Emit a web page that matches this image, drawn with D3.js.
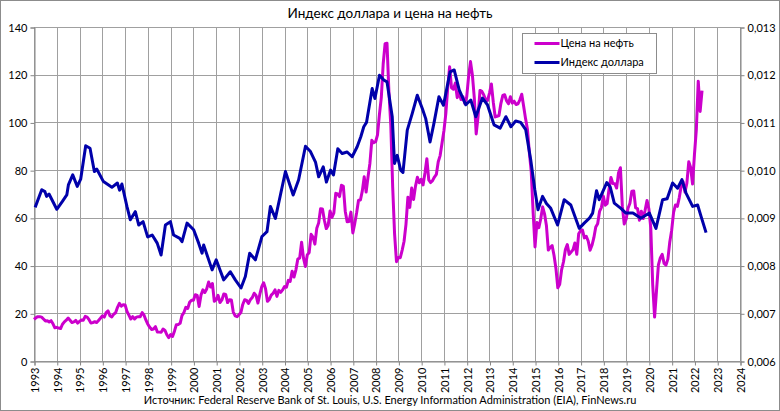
<!DOCTYPE html>
<html>
<head>
<meta charset="utf-8">
<script src="https://cdn.jsdelivr.net/npm/d3@7"></script>
<style>
  body { margin: 0; background: #fff; }
  svg { display: block; font-family: Lato, "Open Sans", sans-serif; }
</style>
</head>
<body>
<div class="chart"></div>
<script>
// Brent, $/bbl, monthly from Jan 1993
var oilStart = 1993;
var oilPrices = [
  17.4, 18.1, 18.6, 18.6, 18.4, 17.6, 16.8, 16.9, 16.4, 16.9, 15.6, 13.9,
  14.1, 13.8, 13.6, 15.4, 16.4, 17.1, 18.0, 17.1, 16.1, 16.4, 17.0, 15.9,
  16.6, 17.2, 17.1, 18.7, 18.4, 17.3, 15.9, 16.1, 16.5, 16.1, 17.0, 17.9,
  18.9, 18.4, 20.3, 21.0, 19.0, 18.5, 19.6, 20.2, 22.5, 24.2, 23.0, 23.6,
  23.5, 20.8, 19.2, 17.6, 18.6, 17.6, 18.4, 18.6, 18.6, 20.3, 19.2, 17.1,
  15.4, 14.1, 13.2, 13.4, 14.4, 12.2, 12.1, 12.0, 13.4, 12.8, 11.0, 9.8,
  11.1, 10.3, 12.5, 15.2, 15.3, 15.8, 19.1, 20.3, 22.5, 22.0, 24.6, 25.5,
  25.5, 27.8, 27.5, 22.8, 27.7, 29.8, 28.7, 30.2, 33.1, 31.0, 32.5, 25.0,
  25.6, 27.5, 24.5, 25.6, 28.1, 27.9, 24.5, 25.7, 25.6, 20.5, 18.9, 18.6,
  19.4, 20.3, 23.7, 25.7, 25.4, 24.1, 25.7, 26.6, 28.4, 27.5, 24.3, 28.0,
  31.2, 32.8, 30.3, 25.0, 25.8, 27.6, 28.4, 29.8, 27.1, 29.6, 28.8, 29.8,
  31.2, 30.9, 33.8, 33.4, 37.6, 35.2, 38.2, 42.7, 43.2, 49.8, 43.1, 39.6,
  44.5, 45.5, 53.1, 51.9, 49.0, 55.6, 57.9, 63.8, 63.7, 59.0, 55.5, 56.8,
  62.9, 60.2, 62.1, 70.3, 70.0, 68.9, 73.7, 73.2, 62.8, 58.4, 58.5, 62.4,
  53.7, 57.6, 62.1, 67.4, 67.5, 71.3, 77.2, 70.8, 77.1, 82.9, 92.5, 91.5,
  91.9, 94.8, 103.3, 110.4, 124.6, 133.0, 133.2, 113.0, 99.0, 72.8, 53.2, 41.6,
  43.4, 43.3, 46.5, 50.2, 57.3, 68.6, 64.4, 72.5, 67.7, 73.2, 77.0, 74.7,
  76.2, 73.8, 78.8, 84.8, 75.9, 74.8, 75.6, 77.1, 78.2, 83.5, 86.1, 91.4,
  96.5, 103.7, 114.6, 123.3, 114.5, 113.9, 116.5, 110.4, 112.8, 109.6, 110.8, 107.9,
  110.7, 119.3, 125.5, 119.8, 110.3, 95.2, 102.6, 113.4, 113.0, 111.5, 109.5, 109.2,
  112.3, 116.1, 108.5, 102.3, 102.6, 102.9, 107.9, 111.3, 111.6, 109.1, 107.8, 110.8,
  108.1, 108.9, 107.5, 107.8, 109.5, 111.8, 106.8, 101.6, 97.1, 87.4, 79.4, 62.3,
  47.8, 58.1, 55.9, 59.5, 64.6, 61.7, 56.8, 46.5, 47.6, 48.4, 44.3, 38.9,
  30.7, 32.2, 38.2, 41.6, 46.7, 48.8, 44.7, 45.7, 46.6, 49.5, 44.7, 53.3,
  54.6, 54.9, 51.6, 52.3, 50.3, 46.4, 48.5, 51.7, 56.2, 57.5, 62.7, 64.4,
  69.1, 65.3, 66.0, 72.1, 76.9, 74.4, 74.3, 72.5, 78.9, 81.0, 64.8, 57.4,
  59.4, 64.0, 66.1, 71.2, 71.3, 64.2, 63.9, 59.0, 62.8, 59.7, 63.2, 67.3,
  63.7, 55.7, 32.0, 18.4, 29.4, 40.3, 43.2, 44.7, 40.9, 40.2, 42.7, 49.9,
  54.8, 62.3, 65.4, 64.8, 68.5, 73.2, 75.2, 70.8, 74.5, 83.5, 81.1, 74.2,
  86.5, 97.1, 117.3, 104.6, 113.3
];

// dollar index, right axis
var dollarDates = [
  1993.05, 1993.34, 1993.48, 1993.55, 1993.66, 1994.0, 1994.24, 1994.44, 1994.51, 1994.7,
  1994.9, 1995.05, 1995.27, 1995.46, 1995.65, 1995.76, 1996.05, 1996.42, 1996.66, 1996.76,
  1996.86, 1997.08, 1997.23, 1997.45, 1997.6, 1997.79, 1997.99, 1998.19, 1998.41, 1998.58,
  1998.77, 1998.99, 1999.13, 1999.4, 1999.5, 1999.72, 2000.01, 2000.23, 2000.38, 2000.45,
  2000.82, 2001.0, 2001.33, 2001.62, 2001.84, 2002.09, 2002.28, 2002.47, 2002.72, 2003.01,
  2003.23, 2003.38, 2003.6, 2003.82, 2004.04, 2004.38, 2004.62, 2004.92, 2005.14, 2005.36,
  2005.5, 2005.7, 2005.84, 2006.02, 2006.15, 2006.34, 2006.53, 2006.75, 2006.97, 2007.19,
  2007.35, 2007.48, 2007.6, 2007.85, 2007.97, 2008.17, 2008.36, 2008.5, 2008.73, 2008.83,
  2008.95, 2009.1, 2009.2, 2009.39, 2009.61, 2009.83, 2010.05, 2010.2, 2010.39, 2010.56,
  2010.78, 2010.98, 2011.27, 2011.45, 2011.67, 2011.96, 2012.18, 2012.4, 2012.69, 2012.91,
  2013.2, 2013.47, 2013.72, 2013.94, 2014.15, 2014.37, 2014.59, 2014.81, 2014.99, 2015.13,
  2015.33, 2015.5, 2015.69, 2015.99, 2016.28, 2016.57, 2016.94, 2017.16, 2017.4, 2017.53,
  2017.7, 2017.82, 2018.15, 2018.3, 2018.48, 2018.77, 2018.99, 2019.3, 2019.65, 2020.02,
  2020.31, 2020.6, 2020.8, 2021.04, 2021.26, 2021.45, 2021.63, 2021.92, 2022.14, 2022.29,
  2022.51
];
var dollarValues = [
  0.00922, 0.00959, 0.00955, 0.00945, 0.00950, 0.00918, 0.00934, 0.00948, 0.00969, 0.00990,
  0.00966, 0.00981, 0.01051, 0.01046, 0.00997, 0.01002, 0.00976, 0.00964, 0.00973, 0.00958,
  0.00971, 0.00924, 0.00896, 0.00913, 0.00885, 0.00892, 0.00860, 0.00864, 0.00847, 0.00822,
  0.00885, 0.00892, 0.00864, 0.00857, 0.00850, 0.00889, 0.00875, 0.00847, 0.00826, 0.00843,
  0.00791, 0.00812, 0.00770, 0.00787, 0.00770, 0.00753, 0.00777, 0.00826, 0.00812, 0.00861,
  0.00871, 0.00924, 0.00899, 0.00948, 0.00997, 0.00948, 0.00980, 0.01050, 0.01039, 0.01017,
  0.00986, 0.01007, 0.00975, 0.01000, 0.00990, 0.01045, 0.01035, 0.01038, 0.01028, 0.01049,
  0.01070, 0.01091, 0.01100, 0.01171, 0.01150, 0.01199, 0.01189, 0.01185, 0.01112, 0.01014,
  0.01031, 0.01000, 0.00995, 0.01084, 0.01119, 0.01157, 0.01129, 0.01108, 0.01059, 0.01098,
  0.01154, 0.01136, 0.01206, 0.01210, 0.01168, 0.01137, 0.01147, 0.01112, 0.01151, 0.01137,
  0.01095, 0.01088, 0.01112, 0.01091, 0.01103, 0.01100, 0.01085, 0.01022, 0.00959, 0.00917,
  0.00945, 0.00930, 0.00920, 0.00885, 0.00938, 0.00927, 0.00878, 0.00889, 0.00900, 0.00910,
  0.00957, 0.00938, 0.00974, 0.00965, 0.00931, 0.00920, 0.00910, 0.00910, 0.00899, 0.00910,
  0.00878, 0.00938, 0.00940, 0.00973, 0.00962, 0.00980, 0.00952, 0.00924, 0.00927, 0.00903,
  0.00869
];

var leftTicks = [0, 20, 40, 60, 80, 100, 120, 140];
var rightTicks = [0.006, 0.007, 0.008, 0.009, 0.010, 0.011, 0.012, 0.013];
var yearTicks = d3.range(1993, 2025);

var title = "Индекс доллара и цена на нефть";
var source = "Источник: Federal Reserve Bank of St. Louis, U.S. Energy Information Administration (EIA), FinNews.ru";
var oilName = "Цена на нефть";
var dollarName = "Индекс доллара";

var W = 780, H = 411;
var m = {left: 34, right: 40, top: 27, bottom: 50};

var oilColor = "#cc00cc", dollarColor = "#0000aa", gridColor = "#a0a0a0";

var svg = d3.select(".chart").append("svg")
    .attr("width", W).attr("height", H);

svg.append("rect")
    .attr("x", 0.5).attr("y", 0.5)
    .attr("width", W - 1).attr("height", H - 1)
    .attr("fill", "#fff").attr("stroke", "#8c8c8c");

var x = d3.scaleLinear().domain([1993, 2024]).range([m.left, W - m.right]);
var yL = d3.scaleLinear().domain([0, 140]).range([H - m.bottom, m.top]);
var yR = d3.scaleLinear().domain([0.006, 0.013]).range([H - m.bottom, m.top]);

// grid
var grid = svg.append("g").attr("stroke", gridColor).attr("stroke-width", 1);
grid.selectAll("line.h").data(leftTicks).enter().append("line")
    .attr("x1", x(1993)).attr("x2", x(2024))
    .attr("y1", function (d) { return Math.round(yL(d)) + 0.5; })
    .attr("y2", function (d) { return Math.round(yL(d)) + 0.5; });
grid.selectAll("line.v").data(yearTicks).enter().append("line")
    .attr("y1", yL(0)).attr("y2", yL(140))
    .attr("x1", function (d) { return Math.round(x(d)) + 0.5; })
    .attr("x2", function (d) { return Math.round(x(d)) + 0.5; });

// axes
var axisL = svg.append("g")
    .attr("transform", "translate(" + (m.left + 0.5) + ",0.5)")
    .call(d3.axisLeft(yL).tickValues(leftTicks).tickSize(4).tickPadding(3));
var axisR = svg.append("g")
    .attr("transform", "translate(" + (W - m.right + 0.5) + ",0.5)")
    .call(d3.axisRight(yR).tickValues(rightTicks).tickSize(4).tickPadding(3)
        .tickFormat(function (d) { return d3.format(".3f")(d).replace(".", ","); }));
var axisB = svg.append("g")
    .attr("transform", "translate(0.5," + (H - m.bottom + 0.5) + ")")
    .call(d3.axisBottom(x).tickValues(yearTicks).tickSize(4).tickFormat(d3.format("d")));

[axisL, axisR, axisB].forEach(function (a) {
    a.selectAll("path, line").attr("stroke", "#868686");
    a.selectAll("text").attr("fill", "#000").style("font-size", "11px")
        .style("font-family", "Lato, sans-serif");
});
axisB.selectAll("text")
    .attr("transform", "rotate(-90)")
    .attr("text-anchor", "end")
    .attr("x", -6).attr("y", 0).attr("dy", "0.35em");

// series
var oilLine = d3.line()
    .x(function (d, i) { return x(oilStart + i / 12); })
    .y(function (d) { return yL(d); });
var dollarLine = d3.line()
    .x(function (d, i) { return x(dollarDates[i]); })
    .y(function (d) { return yR(d); });

svg.append("path").datum(oilPrices)
    .attr("d", oilLine).attr("fill", "none")
    .attr("stroke", oilColor).attr("stroke-width", 3)
    .attr("stroke-linejoin", "round");
svg.append("path").datum(dollarValues)
    .attr("d", dollarLine).attr("fill", "none")
    .attr("stroke", dollarColor).attr("stroke-width", 3)
    .attr("stroke-linejoin", "round");

// legend
var lg = svg.append("g").attr("transform", "translate(522.5,33.5)");
lg.append("rect").attr("width", 134).attr("height", 40)
    .attr("fill", "#fff").attr("stroke", "#8c8c8c");
var items = [[oilName, oilColor], [dollarName, dollarColor]];
items.forEach(function (it, i) {
    var yy = 10 + i * 19;
    lg.append("line").attr("x1", 12).attr("x2", 37).attr("y1", yy).attr("y2", yy)
        .attr("stroke", it[1]).attr("stroke-width", 3);
    lg.append("text").attr("x", 38).attr("y", yy).attr("dy", "0.35em")
        .style("font-size", "11px").text(it[0]);
});

// texts
svg.append("text").attr("x", 390).attr("y", 18)
    .attr("text-anchor", "middle").style("font-size", "13.5px").text(title);
svg.append("text").attr("x", 390).attr("y", 404)
    .attr("text-anchor", "middle").style("font-size", "11px").text(source);
</script>
</body>
</html>
